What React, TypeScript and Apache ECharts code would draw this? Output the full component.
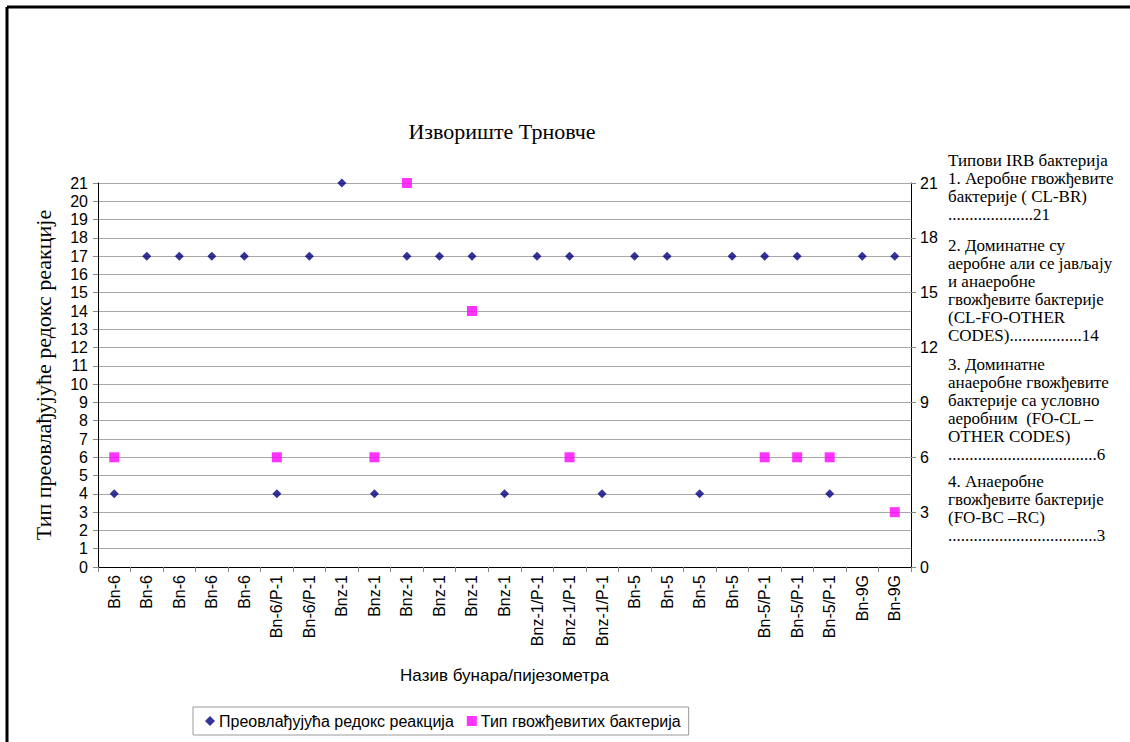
import React, { useEffect, useRef } from "react";
import * as echarts from "echarts";

const categories = [
  "Bn-6", "Bn-6", "Bn-6", "Bn-6", "Bn-6", "Bn-6/P-1", "Bn-6/P-1",
  "Bnz-1", "Bnz-1", "Bnz-1", "Bnz-1", "Bnz-1", "Bnz-1",
  "Bnz-1/P-1", "Bnz-1/P-1", "Bnz-1/P-1",
  "Bn-5", "Bn-5", "Bn-5", "Bn-5",
  "Bn-5/P-1", "Bn-5/P-1", "Bn-5/P-1", "Bn-9G", "Bn-9G",
];

const redoxValues = [
  4, 17, 17, 17, 17, 4, 17,
  21, 4, 17, 17, 17, 4,
  17, 17, 4,
  17, 17, 4, 17,
  17, 17, 4, 17, 17,
];

const bacteriaValues: (number | null)[] = [
  6, null, null, null, null, 6, null,
  null, 6, 21, null, 14, null,
  null, 6, null,
  null, null, null, null,
  6, 6, 6, null, 3,
];

const seriesNames = ["Преовлађујућа редокс реакција", "Тип гвожђевитих бактерија"];
const chartTitle = "Извориште Трновче";
const xAxisTitle = "Назив бунара/пијезометра";
const yAxisTitle = "Тип преовлађујуће редокс реакције";

const noteText = [
  "Типови IRB бактерија\n1. Аеробне гвожђевите\nбактерије ( CL-BR)\n....................21",
  "2. Доминатне су\nаеробне али се јављају\nи анаеробне\nгвожђевите бактерије\n(CL-FO-OTHER\nCODES).................14",
  "3. Доминатне\nанаеробне гвожђевите\nбактерије са условно\nаеробним  (FO-CL –\nOTHER CODES)\n...................................6",
  "4. Анаеробне\nгвожђевите бактерије\n(FO-BC –RC)\n...................................3",
];

export default function App() {
  const ref = useRef<HTMLDivElement>(null);
  useEffect(() => {
    if (!ref.current) return;
    const chart = echarts.init(ref.current, null, { renderer: "svg" });
    const serif = "'Liberation Serif', 'Times New Roman', serif";
    const sans = "'Liberation Sans', Arial, sans-serif";
    const noteTops = [151, 236, 355, 472];
    chart.setOption({
      animation: false,
      backgroundColor: "#ffffff",
      title: {
        text: chartTitle,
        left: 497,
        top: 115,
        textAlign: "center",
        textStyle: { fontFamily: serif, fontSize: 22, fontWeight: "normal", color: "#000" },
      },
      legend: {
        left: 193,
        top: 707,
        padding: [6, 8, 6, 12],
        borderColor: "#9a9a9a",
        borderWidth: 1,
        itemGap: 13,
        itemWidth: 10,
        itemHeight: 10,
        textStyle: { fontFamily: sans, fontSize: 16, color: "#000", padding: [0, 0, 0, -1] },
        data: [
          { name: seriesNames[0], icon: "diamond", itemStyle: { color: "#000080" } },
          { name: seriesNames[1], icon: "rect", itemStyle: { color: "#ff00ff" } },
        ],
      },
      grid: { left: 98, right: 219, top: 183, bottom: 175, containLabel: false },
      xAxis: {
        type: "category",
        data: categories,
        boundaryGap: true,
        name: xAxisTitle,
        nameLocation: "middle",
        nameGap: 100,
        nameTextStyle: { fontFamily: sans, fontSize: 17, color: "#000" },
        axisLine: { lineStyle: { color: "#000", width: 1 } },
        axisTick: { show: true, alignWithLabel: false, length: 5, lineStyle: { color: "#888" } },
        axisLabel: {
          interval: 0,
          rotate: 90,
          margin: 8,
          fontFamily: sans,
          fontSize: 16,
          color: "#000",
        },
        splitLine: { show: false },
      },
      yAxis: [
        {
          type: "value",
          min: 0,
          max: 21,
          interval: 1,
          position: "left",
          name: yAxisTitle,
          nameLocation: "middle",
          nameGap: 44,
          nameTextStyle: { fontFamily: serif, fontSize: 22, color: "#000" },
          axisLine: { show: true, lineStyle: { color: "#000", width: 1 } },
          axisTick: { show: true, length: 5, lineStyle: { color: "#888" } },
          axisLabel: { fontFamily: sans, fontSize: 16, color: "#000", margin: 10 },
          splitLine: { show: true, lineStyle: { color: "#a8a8a8", width: 1 } },
        },
        {
          type: "value",
          min: 0,
          max: 21,
          interval: 3,
          position: "right",
          axisLine: { show: true, lineStyle: { color: "#000", width: 1 } },
          axisTick: { show: true, length: 5, lineStyle: { color: "#888" } },
          axisLabel: { fontFamily: sans, fontSize: 16, color: "#000", margin: 9 },
          splitLine: { show: false },
        },
      ],
      series: [
        {
          name: seriesNames[0],
          type: "scatter",
          data: redoxValues,
          symbol: "diamond",
          symbolSize: 9,
          itemStyle: { color: "#000080" },
          z: 3,
        },
        {
          name: seriesNames[1],
          type: "scatter",
          data: bacteriaValues,
          symbol: "rect",
          symbolSize: 10,
          itemStyle: { color: "#ff00ff" },
          z: 2,
        },
      ],
      graphic: [
        {
          type: "line",
          shape: { x1: 7, y1: 7, x2: 1130, y2: 7 },
          style: { stroke: "#000", lineWidth: 3 },
        },
        {
          type: "line",
          shape: { x1: 7, y1: 7, x2: 7, y2: 742 },
          style: { stroke: "#000", lineWidth: 3 },
        },
        ...noteText.map((t, i) => ({
          type: "text",
          left: 948,
          top: noteTops[i],
          style: {
            text: t,
            fontFamily: serif,
            fontSize: 17,
            lineHeight: 18,
            fill: "#000",
          },
        })),
      ],
    });
    return () => chart.dispose();
  }, []);
  return (
    <div
      ref={ref}
      style={{ position: "fixed", left: 0, top: 0, width: 1130, height: 742 }}
    />
  );
}
